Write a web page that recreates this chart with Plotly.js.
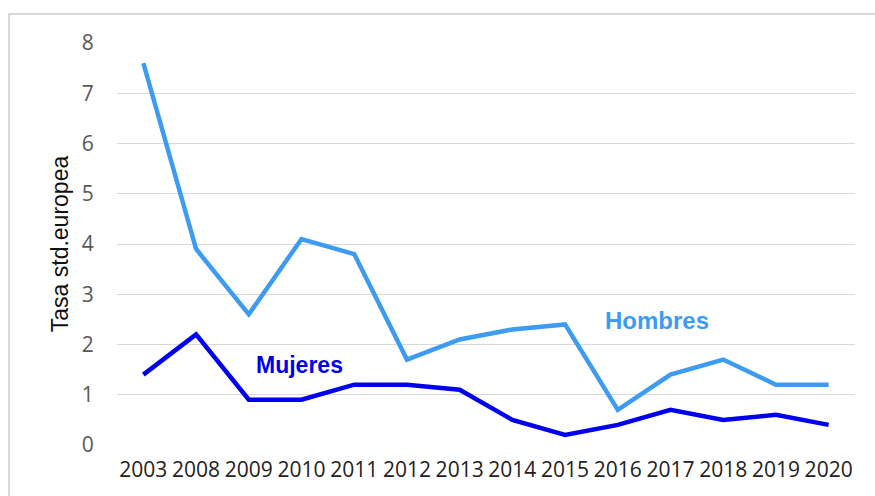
<!DOCTYPE html>
<html>
<head>
<meta charset="utf-8">
<script src="https://cdn.plot.ly/plotly-3.0.1.min.js"></script>
<style>
    html, body { margin: 0; padding: 0; background: #fff; }
    #wrap { position: relative; width: 875px; height: 496px; }
    #chart { width: 875px; height: 496px; }
    #frame {
        position: absolute; left: 8px; top: 13px; right: -2px; bottom: -2px;
        border-left: 2px solid #d9d9d9; border-top: 2px solid #d9d9d9;
        pointer-events: none;
    }
</style>
</head>
<body>
<div id="wrap">
    <div id="chart"></div>
    <div id="frame"></div>
</div>
<script>
// Tasa estandarizada europea por sexo

const years = ['2003', '2008', '2009', '2010', '2011', '2012', '2013',
               '2014', '2015', '2016', '2017', '2018', '2019', '2020'];
const hombres = [7.6, 3.9, 2.6, 4.1, 3.8, 1.7, 2.1, 2.3, 2.4, 0.7, 1.4, 1.7, 1.2, 1.2];
const mujeres = [1.4, 2.2, 0.9, 0.9, 1.2, 1.2, 1.1, 0.5, 0.2, 0.4, 0.7, 0.5, 0.6, 0.4];
const yTicks = [0, 1, 2, 3, 4, 5, 6, 7, 8];

const data = [{
    x: years,
    y: hombres,
    name: 'Hombres',
    type: 'scatter',
    mode: 'lines',
    line: { color: '#3d9cf2', width: 4.5 }
}, {
    x: years,
    y: mujeres,
    name: 'Mujeres',
    type: 'scatter',
    mode: 'lines',
    line: { color: '#0000ee', width: 4.5 }
}];

const layout = {
    width: 875,
    height: 496,
    margin: { l: 117, r: 20, t: 43, b: 51 },
    paper_bgcolor: 'rgba(0,0,0,0)',
    plot_bgcolor: '#fff',
    showlegend: false,
    font: { family: 'Open Sans, sans-serif' },
    xaxis: {
        type: 'category',
        range: [-0.5, 13.5],
        showgrid: false,
        zeroline: false,
        showline: false,
        ticks: 'outside',
        ticklen: 6,
        tickcolor: 'rgba(0,0,0,0)',
        tickfont: { size: 21, color: '#222', family: 'Open Sans, sans-serif' }
    },
    yaxis: {
        range: [0, 8],
        tickvals: yTicks,
        showgrid: true,
        gridcolor: '#d9d9d9',
        gridwidth: 1,
        zeroline: false,
        showline: false,
        ticks: 'outside',
        ticklen: 18,
        tickcolor: 'rgba(0,0,0,0)',
        tickfont: { size: 21, color: '#595959', family: 'Open Sans, sans-serif' },
        title: {
            text: 'Tasa std.europea',
            font: { size: 23, color: '#111', family: 'Liberation Sans, Arial, sans-serif' },
            standoff: 6
        }
    },
    annotations: [{
        x: 9.75, y: 2.47, xref: 'x', yref: 'y',
        text: '<b>Hombres</b>', showarrow: false,
        font: { size: 24, color: '#3d9cf2', family: 'Liberation Sans, Arial, sans-serif' }
    }, {
        x: 2.96, y: 1.59, xref: 'x', yref: 'y',
        text: '<b>Mujeres</b>', showarrow: false,
        font: { size: 23, color: '#0000ee', family: 'Liberation Sans, Arial, sans-serif' }
    }]
};

Plotly.newPlot('chart', data, layout, { displayModeBar: false, staticPlot: true });
</script>
</body>
</html>
